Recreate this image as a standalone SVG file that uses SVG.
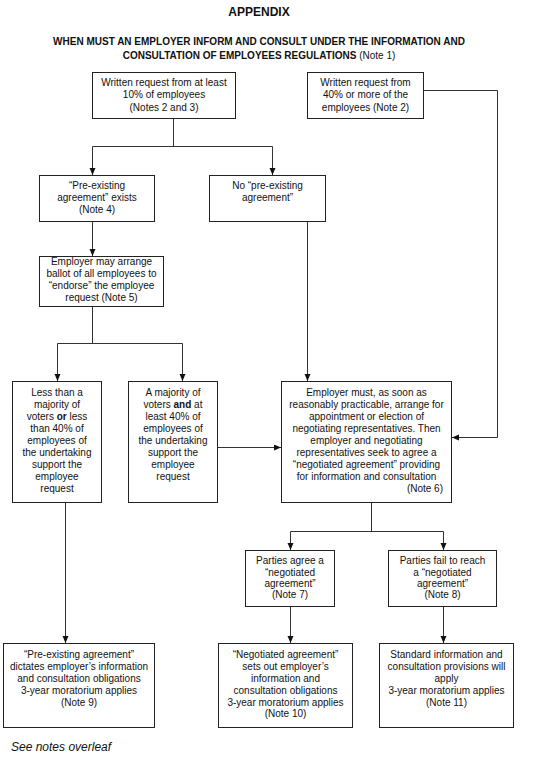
<svg xmlns="http://www.w3.org/2000/svg" width="546" height="770" viewBox="0 0 546 770">
<style>
text{font-family:"Liberation Sans",Arial,sans-serif;font-size:10px;fill:#111;text-anchor:middle}
.t{font-weight:bold;font-size:12px}
.h{font-weight:bold}
.b{font-weight:bold}
.n{font-weight:normal}
rect{fill:#fff;stroke:#222;stroke-width:1}
.c path{fill:none;stroke:#333;stroke-width:1}
.foot{font-style:italic;font-size:12px;text-anchor:start}
</style>
<defs>
<marker id="ah" markerUnits="userSpaceOnUse" markerWidth="8" markerHeight="8" refX="7" refY="3" orient="auto">
<path d="M0,0 L7,3 L0,6 z" fill="#111"/>
</marker>
</defs>
<text class="t" x="259" y="16">APPENDIX</text>
<text class="h" x="259" y="45">WHEN MUST AN EMPLOYER INFORM AND CONSULT UNDER THE INFORMATION AND</text>
<text class="h" x="259" y="59.3">CONSULTATION OF EMPLOYEES REGULATIONS<tspan class="n"> (Note 1)</tspan></text>

<g class="c" id="connectors">
<path d="M173.5,119 V146.5 M92.5,146.5 H272.5" />
<path d="M92.5,146.5 V175" marker-end="url(#ah)"/>
<path d="M272.5,146.5 V175" marker-end="url(#ah)"/>
<path d="M424,90.5 H497.5 V437.5 H452" marker-end="url(#ah)"/>
<path d="M92.5,222 V256" marker-end="url(#ah)"/>
<path d="M307.5,222 V381" marker-end="url(#ah)"/>
<path d="M92.5,307 V343.5 M57.5,343.5 H182.5"/>
<path d="M57.5,343.5 V381" marker-end="url(#ah)"/>
<path d="M182.5,343.5 V381" marker-end="url(#ah)"/>
<path d="M218,447.5 H281" marker-end="url(#ah)"/>
<path d="M371.5,503 V531.5 M290.5,531.5 H443.5"/>
<path d="M290.5,531.5 V550" marker-end="url(#ah)"/>
<path d="M443.5,531.5 V550" marker-end="url(#ah)"/>
<path d="M65.5,503 V643" marker-end="url(#ah)"/>
<path d="M290.5,607 V643" marker-end="url(#ah)"/>
<path d="M443.5,607 V643" marker-end="url(#ah)"/>
</g>

<g id="n1">
<rect x="92.5" y="72.5" width="143" height="46"/>
<text x="164" y="86">Written request from at least</text>
<text x="164" y="98.4">10% of employees</text>
<text x="164" y="110.8">(Notes 2 and 3)</text>
</g>
<g id="n2">
<rect x="307.5" y="72.5" width="116" height="46"/>
<text x="365.5" y="86">Written request from</text>
<text x="365.5" y="98.4">40% or more of the</text>
<text x="365.5" y="110.8">employees (Note 2)</text>
</g>
<g id="n3">
<rect x="39.5" y="175.5" width="115" height="46"/>
<text x="97" y="188.5">“Pre-existing</text>
<text x="97" y="201">agreement” exists</text>
<text x="97" y="213.4">(Note 4)</text>
</g>
<g id="n4">
<rect x="209.5" y="175.5" width="116" height="46"/>
<text x="267.5" y="188.5">No “pre-existing</text>
<text x="267.5" y="201">agreement”</text>
</g>
<g id="n5">
<rect x="39.5" y="256.5" width="124" height="50"/>
<text x="101.5" y="264.5">Employer may arrange</text>
<text x="101.5" y="276.7">ballot of all employees to</text>
<text x="101.5" y="288.9">“endorse” the employee</text>
<text x="101.5" y="301.1">request (Note 5)</text>
</g>
<g id="n7">
<rect x="12.5" y="381.5" width="89" height="121"/>
<text x="57" y="395.7">Less than a</text>
<text x="57" y="407.8">majority of</text>
<text x="57" y="419.9">voters <tspan class="b">or</tspan> less</text>
<text x="57" y="431.9">than 40% of</text>
<text x="57" y="444">employees of</text>
<text x="57" y="456.1">the undertaking</text>
<text x="57" y="468.2">support the</text>
<text x="57" y="480.3">employee</text>
<text x="57" y="492.3">request</text>
</g>
<g id="n8">
<rect x="128.5" y="381.5" width="89" height="121"/>
<text x="173" y="395.7">A majority of</text>
<text x="173" y="407.8">voters <tspan class="b">and</tspan> at</text>
<text x="173" y="419.9">least 40% of</text>
<text x="173" y="431.9">employees of</text>
<text x="173" y="444">the undertaking</text>
<text x="173" y="456.1">support the</text>
<text x="173" y="468.2">employee</text>
<text x="173" y="480.3">request</text>
</g>
<g id="n6">
<rect x="281.5" y="381.5" width="170" height="121"/>
<text x="366.5" y="395.7">Employer must, as soon as</text>
<text x="366.5" y="407.8">reasonably practicable, arrange for</text>
<text x="366.5" y="419.9">appointment or election of</text>
<text x="366.5" y="431.9">negotiating representatives. Then</text>
<text x="366.5" y="444">employer and negotiating</text>
<text x="366.5" y="456.1">representatives seek to agree a</text>
<text x="366.5" y="468.2">“negotiated agreement” providing</text>
<text x="366.5" y="480.3">for information and consultation</text>
<text x="443" y="492.3" style="text-anchor:end">(Note 6)</text>
</g>
<g id="n9">
<rect x="245.5" y="550.5" width="89" height="56"/>
<text x="290" y="564.3">Parties agree a</text>
<text x="290" y="575.6">“negotiated</text>
<text x="290" y="586.9">agreement”</text>
<text x="290" y="598.2">(Note 7)</text>
</g>
<g id="n10">
<rect x="388.5" y="550.5" width="108" height="56"/>
<text x="442.5" y="564.3">Parties fail to reach</text>
<text x="442.5" y="575.6">a “negotiated</text>
<text x="442.5" y="586.9">agreement”</text>
<text x="442.5" y="598.2">(Note 8)</text>
</g>
<g id="n11">
<rect x="3.5" y="643.5" width="151" height="84"/>
<text x="79" y="658.3">“Pre-existing agreement”</text>
<text x="79" y="670.1">dictates employer’s information</text>
<text x="79" y="681.9">and consultation obligations</text>
<text x="79" y="693.7">3-year moratorium applies</text>
<text x="79" y="705.5">(Note 9)</text>
</g>
<g id="n12">
<rect x="218.5" y="643.5" width="134" height="84"/>
<text x="285.5" y="658.3">“Negotiated agreement”</text>
<text x="285.5" y="670.1">sets out employer’s</text>
<text x="285.5" y="681.9">information and</text>
<text x="285.5" y="693.7">consultation obligations</text>
<text x="285.5" y="705.5">3-year moratorium applies</text>
<text x="285.5" y="717.3">(Note 10)</text>
</g>
<g id="n13">
<rect x="379.5" y="643.5" width="134" height="84"/>
<text x="446.5" y="658.3">Standard information and</text>
<text x="446.5" y="670.1">consultation provisions will</text>
<text x="446.5" y="681.9">apply</text>
<text x="446.5" y="693.7">3-year moratorium applies</text>
<text x="446.5" y="705.5">(Note 11)</text>
</g>
<text class="foot" x="11" y="751">See notes overleaf</text>
</svg>
